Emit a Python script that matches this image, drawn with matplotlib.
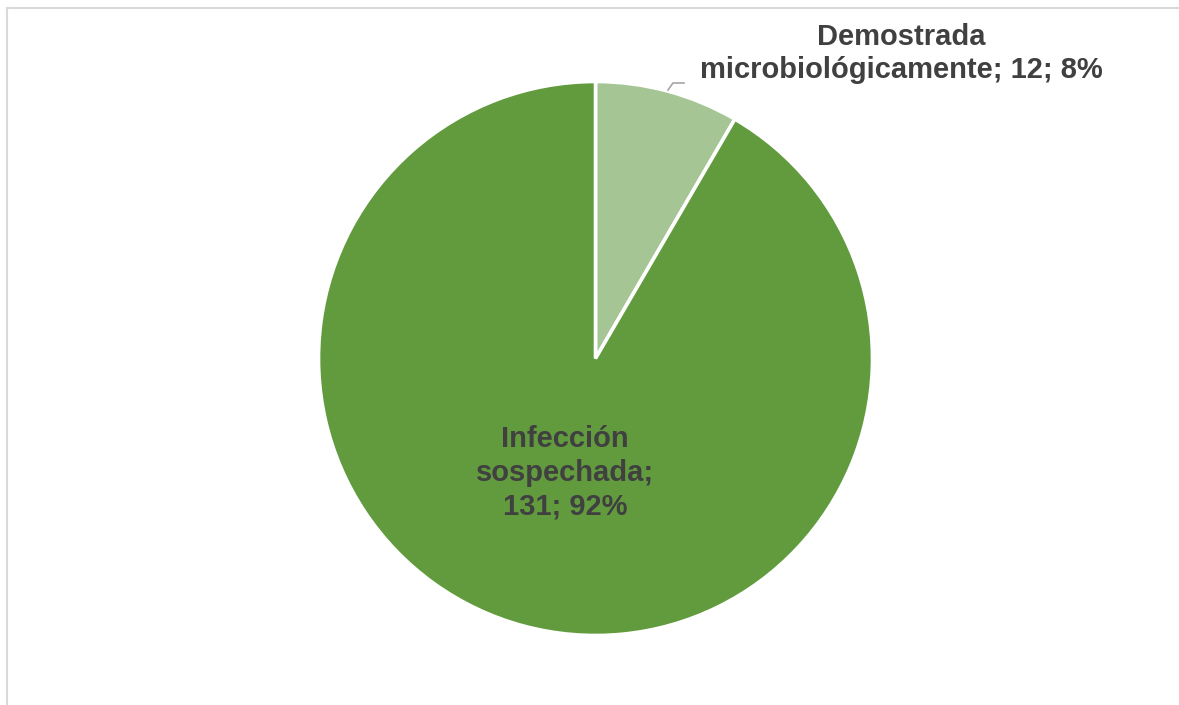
import matplotlib
matplotlib.use("Agg")
import matplotlib.pyplot as plt
from matplotlib.lines import Line2D

categories = ["Demostrada\nmicrobiológicamente", "Infección\nsospechada"]
counts = [12, 131]
colors = ["#A5C594", "#629B3E"]

W, H = 1179, 705
fig = plt.figure(figsize=(W / 100, H / 100), dpi=100)
ax = fig.add_axes([0, 0, 1, 1])

cx, cy, r = 595.5, H - 358.5, 277
wedges, _ = ax.pie(
    counts,
    colors=colors,
    startangle=90,
    counterclock=False,
    center=(cx, cy),
    radius=r,
    frame=True,
    wedgeprops=dict(edgecolor="white", linewidth=2.6),
)
ax.set_xlim(0, W)
ax.set_ylim(0, H)
ax.set_aspect("equal")
ax.axis("off")

total = sum(counts)
labels = [f"{c}; {n}; {round(100 * n / total)}%" for c, n in zip(categories, counts)]

font = dict(family=["Liberation Sans", "DejaVu Sans"], weight="bold",
            fontsize=21, color="#404040", ha="center", va="center",
            linespacing=1.27)

# Small slice: label outside with a leader line
ax.text(901, H - 53.5, labels[0], **font)
ax.add_line(Line2D([668, 673, 684], [H - 90, H - 83, H - 83],
                   color="#A6A6A6", linewidth=1.2))

# Large slice: label inside, wrapped over three lines
inner = labels[1].replace("; ", ";\n", 1)
ax.text(565, H - 473, inner, **font)

# Chart frame (top and left edges)
fig.add_artist(Line2D([6.5, W], [H - 7.5, H - 7.5], transform=None,
                      color="#D9D9D9", linewidth=1.5))
fig.add_artist(Line2D([6.5, 6.5], [0, H - 7.5], transform=None,
                      color="#D9D9D9", linewidth=1.5))

fig.savefig("out.png", dpi=100, facecolor="white")
